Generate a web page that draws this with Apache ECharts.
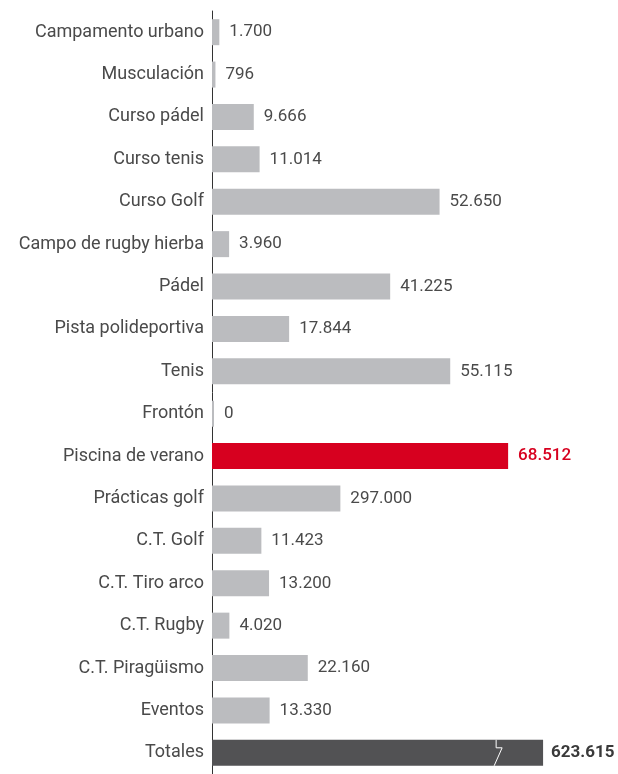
<!DOCTYPE html>
<html>
<head>
<meta charset="utf-8">
<script src="https://cdn.jsdelivr.net/npm/echarts@6/dist/echarts.min.js"></script>
<style>
  html, body { margin: 0; padding: 0; background: #fff; }
  #main { width: 618px; height: 774px; }
</style>
</head>
<body>
<div id="main"></div>
<script>
// categorias (de arriba a abajo)
var categorias = ['Campamento urbano', 'Musculación', 'Curso pádel', 'Curso tenis', 'Curso Golf',
  'Campo de rugby hierba', 'Pádel', 'Pista polideportiva', 'Tenis', 'Frontón', 'Piscina de verano',
  'Prácticas golf', 'C.T. Golf', 'C.T. Tiro arco', 'C.T. Rugby', 'C.T. Piragüismo', 'Eventos', 'Totales'];
// cifras que se muestran
var usuarios = [1700, 796, 9666, 11014, 52650, 3960, 41225, 17844, 55115, 0, 68512,
  297000, 11423, 13200, 4020, 22160, 13330, 623615];
// largo dibujado de cada barra (Prácticas golf y Totales no van a escala en el original)
var largoBarra = [1700, 796, 9666, 11014, 52650, 3960, 41225, 17844, 55115, 0, 68512,
  29700, 11423, 13200, 4020, 22160, 13330, 76600];
// punto de corte en la barra de totales
var corteTotales = 66200;

var gris = '#bbbcbf', rojo = '#d7001f', oscuro = '#525254';

function formato(n) {
  return String(n).replace(/\B(?=(\d{3})+(?!\d))/g, '.');
}

var datos = largoBarra.map(function (v, i) {
  var item = { value: v, label: { formatter: formato(usuarios[i]) } };
  if (categorias[i] === 'Piscina de verano') {
    item.itemStyle = { color: rojo };
    item.label.color = rojo;
    item.label.fontWeight = 500;
  }
  if (categorias[i] === 'Totales') {
    item.itemStyle = { color: oscuro };
    item.label.color = '#3a3a3a';
    item.label.fontWeight = 'bold';
    item.label.distance = 8;
  }
  return item;
});

var myChart = echarts.init(document.getElementById('main'));
var option = {
  animation: false,
  grid: { left: 212, right: 17, top: 11, bottom: -2, containLabel: false },
  xAxis: {
    type: 'value', min: 0, max: 90000,
    show: false
  },
  yAxis: {
    type: 'category',
    data: categorias,
    inverse: true,
    axisLine: { show: true, lineStyle: { color: '#333', width: 1 } },
    axisTick: { show: false },
    axisLabel: { color: '#4a4a4a', fontSize: 18, fontFamily: 'Roboto', margin: 8 }
  },
  series: [
    {
      type: 'bar',
      data: datos,
      barWidth: 26,
      barMinHeight: 2,
      itemStyle: { color: gris },
      label: {
        show: true, position: 'right', distance: 10,
        color: '#4a4a4a', fontSize: 17, fontFamily: 'Roboto'
      }
    },
    {
      type: 'custom',
      data: [[corteTotales, categorias.length - 1]],
      z: 5,
      renderItem: function (params, api) {
        var p = api.coord([api.value(0), api.value(1)]);
        var h = 26;
        return {
          type: 'polyline',
          shape: { points: [
            [p[0] - 2, p[1] - h / 2], [p[0] - 2, p[1] - 5],
            [p[0] + 4, p[1] - 5], [p[0] - 4, p[1] + h / 2]
          ] },
          style: { stroke: '#fff', lineWidth: 1, fill: null }
        };
      }
    }
  ]
};
myChart.setOption(option);
</script>
</body>
</html>
